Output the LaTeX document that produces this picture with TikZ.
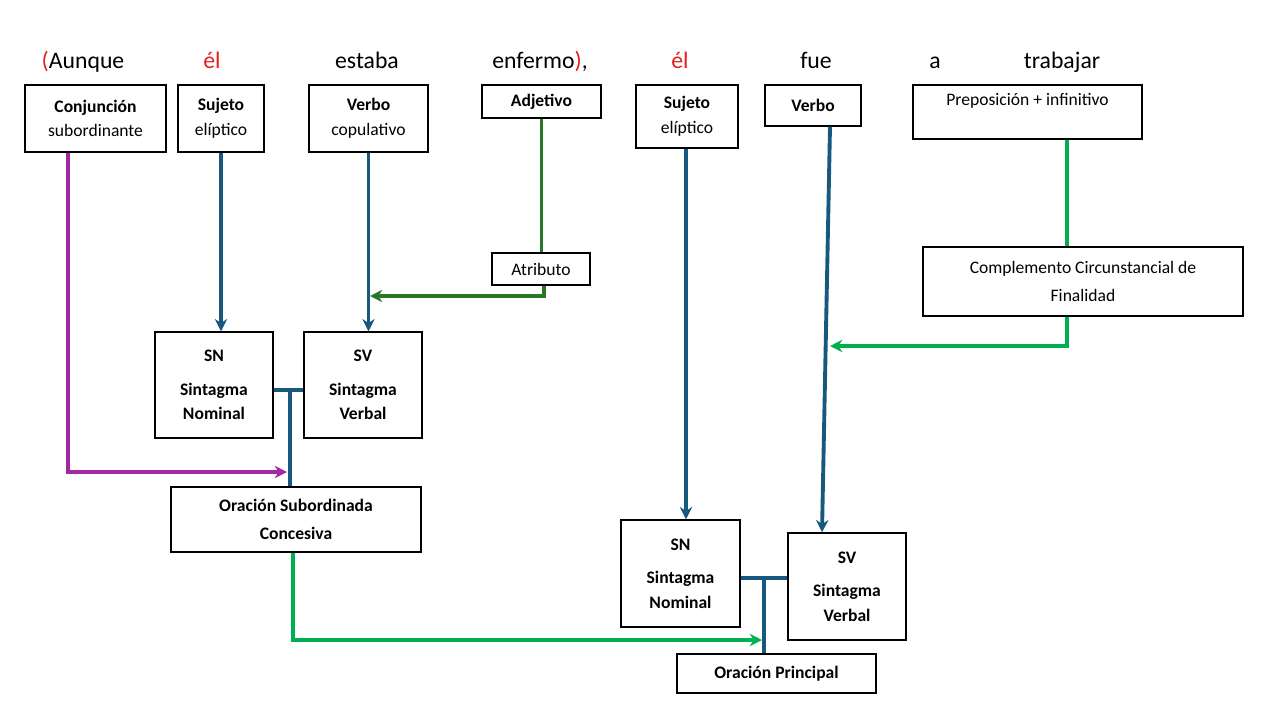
\documentclass[tikz,border=0pt]{standalone}
\usepackage{fontspec}
\setmainfont{Carlito}
\usepackage{xcolor}
\usetikzlibrary{arrows.meta,positioning,calc}
\definecolor{synblue}{RGB}{22,88,126}
\definecolor{synpurple}{RGB}{160,40,160}
\definecolor{syndkgreen}{RGB}{40,120,40}
\definecolor{synltgreen}{RGB}{0,176,80}
\definecolor{synred}{RGB}{230,30,30}

\begin{document}
\begin{tikzpicture}[
    x=0.02cm, y=-0.02cm,
    word/.style={font=\fontsize{13.5}{15}\selectfont, anchor=base},
    gbox/.style={rectangle, draw=black, thick, align=center, font=\fontsize{10}{12}\selectfont, inner sep=2pt},
    arrow/.style={-{Stealth[length=7pt,width=7pt]}, line width=2.2pt},
    link/.style={line width=2.2pt}
]
    \useasboundingbox[fill=white] (0,0) rectangle (1280,720);

    % Sentence
    \node[word] (w1) at (83,68) {\textcolor{synred}{(}Aunque};
    \node[word] (w2) at (212,68) {\textcolor{synred}{él}};
    \node[word] (w3) at (367,68) {estaba};
    \node[word] (w4) at (540,68) {enfermo\textcolor{synred}{)},};
    \node[word] (w5) at (680,68) {\textcolor{synred}{él}};
    \node[word] (w6) at (816,68) {fue};
    \node[word] (w7) at (935,68) {a};
    \node[word] (w8) at (1062,68) {trabajar};

    % Word categories
    \node[gbox, minimum width=2.82cm, minimum height=1.34cm] (conj) at (95.5,118.5) {\textbf{Conjunción}\\[2pt]subordinante};
    \node[gbox, minimum width=1.72cm, minimum height=1.34cm] (suj1) at (221,118.5) {\textbf{Sujeto}\\[2pt]elíptico};
    \node[gbox, minimum width=2.38cm, minimum height=1.34cm] (verb1) at (368.5,118.5) {\textbf{Verbo}\\[2pt]copulativo};
    \node[gbox, minimum width=2.38cm, minimum height=0.66cm] (adj) at (541.5,101.5) {\textbf{Adjetivo}};
    \node[gbox, minimum width=2.04cm, minimum height=1.26cm] (suj2) at (687,116.5) {\textbf{Sujeto}\\[2pt]elíptico};
    \node[gbox, minimum width=1.92cm, minimum height=0.82cm] (verb2) at (813,105.5) {\textbf{Verbo}};
    \node[gbox, minimum width=4.58cm, minimum height=1.08cm, text depth=14pt] (prep) at (1027.5,112) {Preposición + infinitivo};

    % Functions
    \node[gbox, minimum width=1.96cm, minimum height=0.64cm] (atrib) at (541,269) {Atributo};
    \node[gbox, minimum width=6.4cm, minimum height=1.38cm] (ccf) at (1083,281.5) {Complemento Circunstancial de\\[4pt]Finalidad};

    % Phrases
    \node[gbox, font=\fontsize{10}{12}\selectfont\bfseries, minimum width=2.36cm, minimum height=2.12cm] (sn1) at (214,385) {SN\\[7pt]Sintagma\\[2pt]Nominal};
    \node[gbox, font=\fontsize{10}{12}\selectfont\bfseries, minimum width=2.36cm, minimum height=2.12cm] (sv1) at (363,385) {SV\\[7pt]Sintagma\\[2pt]Verbal};
    \node[gbox, font=\fontsize{10}{12}\selectfont\bfseries, minimum width=5cm, minimum height=1.3cm] (osc) at (296,519.5) {Oración Subordinada\\[4pt]Concesiva};
    \node[gbox, font=\fontsize{10}{12}\selectfont\bfseries, minimum width=2.38cm, minimum height=2.14cm] (sn2) at (680.5,573.5) {SN\\[7pt]Sintagma\\[2pt]Nominal};
    \node[gbox, font=\fontsize{10}{12}\selectfont\bfseries, minimum width=2.36cm, minimum height=2.14cm] (sv2) at (847,586.5) {SV\\[7pt]Sintagma\\[2pt]Verbal};
    \node[gbox, font=\fontsize{10}{12}\selectfont\bfseries, minimum width=3.98cm, minimum height=0.78cm] (op) at (776.5,673.5) {Oración Principal};

    % Junction points
    \coordinate (j1) at (290,390);
    \coordinate (j2) at (764,578);

    % Connections - subordinate clause
    \draw[arrow, synpurple] (conj.south -| 68,0) |- (287,472);
    \draw[arrow, synblue] (suj1.south) -- (sn1.north -| suj1.south);
    \draw[arrow, synblue] (verb1.south) -- (sv1.north -| verb1.south);
    \draw[link, syndkgreen] (adj.south) -- (atrib.north -| adj.south);
    \draw[arrow, syndkgreen] (atrib.south -| 544,0) |- (370,296);
    \draw[link, synblue] (sn1.east |- j1) -- (sv1.west |- j1);
    \draw[link, synblue] (j1) -- (osc.north -| j1);
    \draw[arrow, synltgreen] (osc.south -| 293,0) |- (762,640);

    % Connections - main clause
    \draw[arrow, synblue] (suj2.south -| 686,0) -- (sn2.north -| 686,0);
    \draw[arrow, synblue] (verb2.south -| 830,0) -- (sv2.north -| 822,0);
    \draw[link, synltgreen] (prep.south -| 1067,0) -- (ccf.north -| 1067,0);
    \draw[arrow, synltgreen] (ccf.south -| 1067,0) |- (830,346);
    \draw[link, synblue] (sn2.east |- j2) -- (sv2.west |- j2);
    \draw[link, synblue] (j2) -- (op.north -| j2);
\end{tikzpicture}
\end{document}
